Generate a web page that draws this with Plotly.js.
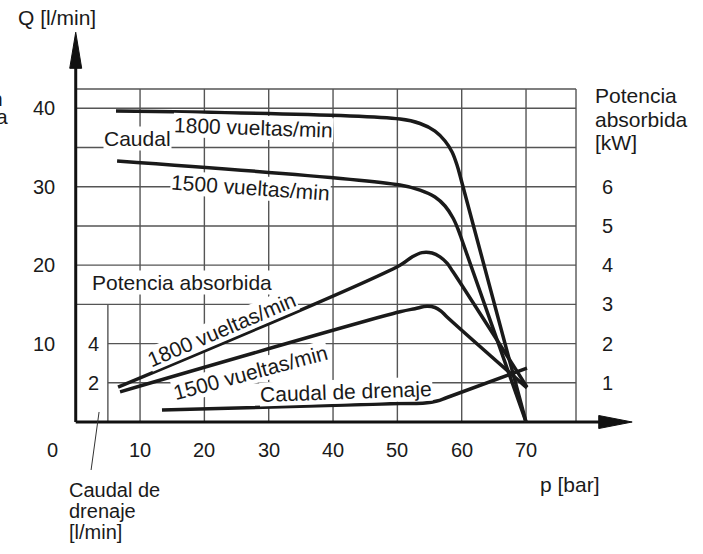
<!DOCTYPE html>
<html><head><meta charset="utf-8">
<script src="https://cdn.plot.ly/plotly-3.0.1.min.js"></script>
<style>html,body{margin:0;padding:0;background:#fff}</style>
</head><body>
<div id="chart" style="width:703px;height:554px"></div>
<script>
// ---- data ----
// Caudal Q [l/min] vs p [bar]
const pCaudal1800 = [6.26, 50.41, 53.52, 55.85, 57.41, 58.5, 59.27, 60.05, 70];
const caudal1800  = [39.65, 38.63, 38.06, 37.1, 35.83, 34.43, 32.77, 30.47, 0];
const pCaudal1500 = [6.43, 50.41, 53.52, 55.85, 57.41, 58.65, 59.42, 60.2, 70];
const caudal1500  = [33.28, 30.22, 29.58, 28.69, 27.54, 26.01, 24.61, 22.82, 0];
// Potencia absorbida [kW] vs p [bar]
const pPot1800 = [6.58, 50.41, 52.28, 53.83, 55.39, 56.63, 57.72, 58.65, 70.15];
const pot1800  = [0.89, 4.0, 4.21, 4.32, 4.31, 4.21, 4.05, 3.83, 0.89];
const pPot1500 = [6.89, 50.41, 52.74, 54.61, 55.85, 56.78, 57.72, 70.15];
const pot1500  = [0.77, 2.81, 2.89, 2.95, 2.92, 2.83, 2.68, 0.87];
// Caudal de drenaje [l/min] vs p [bar]
const pDren = [13.41, 50.41, 54.3, 56.16, 57.72, 70.15];
const dren  = [0.61, 0.94, 0.97, 1.07, 1.25, 2.75];
// tick labels
const pTicks = [10, 20, 30, 40, 50, 60, 70];
const qTicks = [10, 20, 30, 40];
const kwTicks = [1, 2, 3, 4, 5, 6];
const drenTicks = [2, 4];
const gridQ = [5, 10, 15, 20, 25, 30, 35, 40];

// ---- geometry of the frame (axis units) ----
const Q_TOP = 42.46, P_RIGHT = 77.77, P_INNER = 5;
const X_RANGE = [-11.77, 97.51], Y_RANGE = [-16.83, 53.81];
const INK = '#1a1a1a', GRID = '#555555';
const FONT = 'Liberation Sans, Arial, Helvetica, sans-serif';

const curve = {color: INK, width: 3.5, shape: 'spline', smoothing: 1};
const traces = [
  {x: pCaudal1800, y: caudal1800, yaxis: 'y'},
  {x: pCaudal1500, y: caudal1500, yaxis: 'y'},
  {x: pPot1800, y: pot1800, yaxis: 'y2'},
  {x: pPot1500, y: pot1500, yaxis: 'y2'},
  {x: pDren, y: dren, yaxis: 'y3'}
].map(t => Object.assign({type: 'scatter', mode: 'lines', line: curve, hoverinfo: 'skip'}, t));

const shapes = [];
function seg(x0, y0, x1, y1, color, width) {
  shapes.push({type: 'line', xref: 'x', yref: 'y', x0, y0, x1, y1,
    line: {color, width}, layer: 'below'});
}
pTicks.forEach(p => seg(p, 0, p, Q_TOP, GRID, 1.4));
seg(P_RIGHT, 0, P_RIGHT, Q_TOP, GRID, 1.4);
seg(0, Q_TOP, P_RIGHT, Q_TOP, GRID, 1.4);
gridQ.forEach(q => seg(q <= 10 ? P_INNER : 0, q, P_RIGHT, q, GRID, 1.4));
seg(P_INNER, 0, P_INNER, 15, GRID, 1.4);
// main axes
seg(0, 0, 0, 45.6, '#111', 3);
seg(0, 0, 81.6, 0, '#111', 3);
shapes.push({type: 'path', xref: 'x', yref: 'y', path: 'M -0.93,45.1 L 0,49.7 L 0.93,45.1 Z',
  fillcolor: '#111', line: {color: '#111', width: 1}});
shapes.push({type: 'path', xref: 'x', yref: 'y', path: 'M 81.3,-0.83 L 86.5,0 L 81.3,0.83 Z',
  fillcolor: '#111', line: {color: '#111', width: 1}});
// leader line for "Caudal de drenaje"
seg(3.63, 1.28, 2.39, -6.12, '#333', 1);

const annotations = [];
function txt(text, x, y, o) {
  annotations.push(Object.assign({text, x, y, xref: 'x', yref: 'y', showarrow: false,
    font: {family: FONT, size: 21, color: INK}, xanchor: 'center', yanchor: 'middle'}, o || {}));
}
const tickFont = {family: FONT, size: 20, color: INK};
const bg = {bgcolor: '#ffffff', borderpad: 0};
pTicks.forEach(p => txt(String(p), p, -3.57, {font: tickFont}));
txt('0', -3.68, -3.57, {font: tickFont});
qTicks.forEach(q => txt(String(q), -2.91, q, {xanchor: 'right', font: tickFont}));
kwTicks.forEach(k => txt(String(k), 82.6, k, {yref: 'y2', font: tickFont}));
drenTicks.forEach(d => txt(String(d), 2.7, d, {yref: 'y3', font: tickFont}));

txt('Q [l/min]', -2.91, 51.64);
txt('p [bar]', 76.84, -8.03);
txt('Potencia', 80.41, 41.6, {xanchor: 'left'});
txt('absorbida', 80.41, 38.56, {xanchor: 'left'});
txt('[kW]', 80.41, 35.6, {xanchor: 'left'});
txt('Caudal de', -1.35, -8.67, {xanchor: 'left', font: {family: FONT, size: 20, color: INK}});
txt('drenaje', -1.35, -11.4, {xanchor: 'left', font: {family: FONT, size: 20, color: INK}});
txt('[l/min]', -1.35, -14.0, {xanchor: 'left', font: {family: FONT, size: 20, color: INK}});
txt('n', -10.95, 41.3, {xanchor: 'right'});
txt('a', -10.2, 38.9, {xanchor: 'right'});

txt('Caudal', 9.6, 36.21, bg);
txt('1800 vueltas/min', 27.64, 37.55, Object.assign({textangle: 2}, bg));
txt('1500 vueltas/min', 27.1, 29.84, Object.assign({textangle: 4}, bg));
txt('Potencia absorbida', 16.52, 17.85, bg);
txt('1800 vueltas/min', 22.66, 11.86, Object.assign({textangle: -23}, bg));
txt('1500 vueltas/min', 27.1, 6.31, Object.assign({textangle: -15}, bg));
txt('Caudal de drenaje', 41.94, 3.95, Object.assign({textangle: -2}, bg));

const layout = {
  width: 703, height: 554,
  margin: {l: 0, r: 0, t: 0, b: 0, pad: 0},
  paper_bgcolor: '#ffffff', plot_bgcolor: '#ffffff',
  showlegend: false,
  xaxis: {range: X_RANGE, visible: false, fixedrange: true},
  yaxis: {range: Y_RANGE, visible: false, fixedrange: true},
  yaxis2: {range: Y_RANGE.map(v => v / 5), overlaying: 'y', visible: false, fixedrange: true},
  yaxis3: {range: Y_RANGE.map(v => v / 2.5), overlaying: 'y', visible: false, fixedrange: true},
  shapes, annotations
};
Plotly.newPlot('chart', traces, layout, {displayModeBar: false, staticPlot: true});
</script>
</body></html>
